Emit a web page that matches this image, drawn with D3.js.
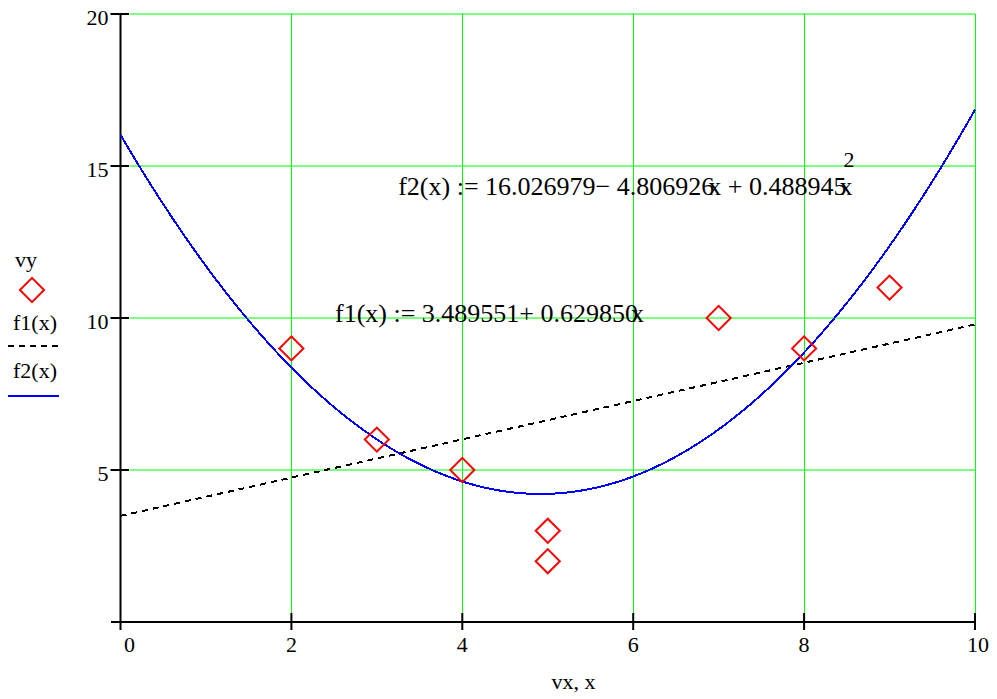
<!DOCTYPE html>
<html>
<head>
<meta charset="utf-8">
<script src="https://cdn.jsdelivr.net/npm/d3@7"></script>
<style>
  body { margin: 0; background: #fff; }
  text { font-family: "Liberation Serif", "Times New Roman", serif; fill: #000; }
</style>
</head>
<body>
<svg id="chart" width="997" height="699"></svg>
<script>
// Measured points
const vx = [2, 3, 4, 5, 5, 7, 8, 9];
const vy = [9, 6, 5, 3, 2, 10, 9, 11];

// Fitted coefficients (constant term first)
const f1Coef = [3.489551, 0.629850];
const f2Coef = [16.026979, -4.806926, 0.488945];

// Axis ticks
const xTicks = [0, 2, 4, 6, 8, 10];
const yTicks = [0, 5, 10, 15, 20];
const xGrid = [2, 4, 6, 8, 10];
const yGrid = [5, 10, 15, 20];

const svg = d3.select("#chart");
const x = d3.scaleLinear().domain([0, 10]).range([120.5, 975]);
const y = d3.scaleLinear().domain([0, 20]).range([622, 14]);

const poly = c => t => c.reduce((s, k, i) => s + k * Math.pow(t, i), 0);
const f1 = poly(f1Coef), f2 = poly(f2Coef);
const xs = d3.range(0, 10.0001, 0.02);

// Grid
svg.append("g").selectAll("line").data(yGrid).join("line")
  .attr("x1", x(0) + 9).attr("x2", x(10))
  .attr("y1", d => y(d)).attr("y2", d => y(d))
  .attr("stroke", "#7dff7d").attr("stroke-width", 2);
svg.append("g").selectAll("line").data(xGrid).join("line")
  .attr("x1", d => Math.round(x(d)) + 0.5).attr("x2", d => Math.round(x(d)) + 0.5)
  .attr("y1", y(20)).attr("y2", y(0) - 9)
  .attr("stroke", "#00ff00").attr("stroke-width", 1);

// Axes
const ax = svg.append("g").attr("stroke", "#000").attr("stroke-width", 2);
ax.append("line").attr("x1", x(0) - 9.5).attr("x2", x(10)).attr("y1", y(0)).attr("y2", y(0));
ax.append("line").attr("x1", x(0)).attr("x2", x(0)).attr("y1", y(20)).attr("y2", y(0) + 8);
ax.selectAll(".yt").data(yTicks.filter(d => d > 0)).join("line")
  .attr("x1", x(0) - 10).attr("x2", x(0) + 8.5)
  .attr("y1", d => y(d)).attr("y2", d => y(d));
ax.selectAll(".xt").data(xTicks.filter(d => d > 0)).join("line")
  .attr("x1", d => x(d)).attr("x2", d => x(d))
  .attr("y1", y(0) - 9).attr("y2", y(0) + 8);

// Tick labels
svg.append("g").selectAll("text").data(yTicks.filter(d => d > 0)).join("text")
  .attr("x", x(0) - 12).attr("y", d => y(d)).attr("dy", "0.52em")
  .attr("text-anchor", "end").attr("font-size", 22)
  .text(d => d);
svg.append("g").selectAll("text").data(xTicks).join("text")
  .attr("x", d => x(d) + (d === 0 ? 9 : d === 10 ? 3 : 0)).attr("y", 652)
  .attr("text-anchor", "middle").attr("font-size", 22)
  .text(d => d);
svg.append("text").attr("x", x(5.3)).attr("y", 689)
  .attr("text-anchor", "middle").attr("font-size", 22).text("vx, x");

// Curves
const line = d3.line().x(d => x(d[0])).y(d => y(d[1]));
svg.append("path").datum(xs.map(t => [t, f1(t)]))
  .attr("d", line).attr("fill", "none").attr("stroke", "#000")
  .attr("stroke-width", 2).attr("stroke-dasharray", "6,5")
  .attr("shape-rendering", "crispEdges");
svg.append("path").datum(xs.map(t => [t, f2(t)]).filter(d => d[1] <= 20))
  .attr("d", line).attr("fill", "none").attr("stroke", "#0000ff")
  .attr("stroke-width", 2).attr("shape-rendering", "crispEdges");

// Data points
const diamond = d3.symbol().type(d3.symbolSquare).size(290);
svg.append("g").selectAll("path").data(vx.map((d, i) => [d, vy[i]])).join("path")
  .attr("d", diamond)
  .attr("transform", d => `translate(${x(d[0])},${y(d[1])}) rotate(45)`)
  .attr("fill", "none").attr("stroke", "#ff0000").attr("stroke-width", 2);

// Equation labels
const fmt = v => v.toFixed(6);
const t2 = svg.append("text").attr("x", x(3.25)).attr("y", y(14.05)).attr("font-size", 26);
t2.append("tspan").text(`f2(x) := ${fmt(f2Coef[0])}\u2212 ${fmt(-f2Coef[1])}`);
t2.append("tspan").attr("dx", -6).text("x");
t2.append("tspan").text(` + ${fmt(f2Coef[2])}`);
t2.append("tspan").attr("dx", -7).text("x");
t2.append("tspan").attr("dx", -9).attr("dy", -28).attr("font-size", 22).text("2");

const t1 = svg.append("text").attr("x", x(2.51)).attr("y", y(9.87)).attr("font-size", 26);
t1.append("tspan").text(`f1(x) := ${fmt(f1Coef[0])}+ ${fmt(f1Coef[1])}`);
t1.append("tspan").attr("dx", -7).text("x");

// Legend
const lg = svg.append("g");
lg.append("text").attr("x", 15).attr("y", 267).attr("font-size", 22).text("vy");
lg.append("path").attr("d", diamond).attr("transform", "translate(32,290) rotate(45)")
  .attr("fill", "none").attr("stroke", "#ff0000").attr("stroke-width", 2);
lg.append("text").attr("x", 13).attr("y", 330).attr("font-size", 22).text("f1(x)");
lg.append("line").attr("x1", 8).attr("x2", 58).attr("y1", 346).attr("y2", 346)
  .attr("stroke", "#000").attr("stroke-width", 2).attr("stroke-dasharray", "6,5");
lg.append("text").attr("x", 13).attr("y", 378).attr("font-size", 22).text("f2(x)");
lg.append("line").attr("x1", 8).attr("x2", 59).attr("y1", 396).attr("y2", 396)
  .attr("stroke", "#0000ff").attr("stroke-width", 2);
</script>
</body>
</html>
